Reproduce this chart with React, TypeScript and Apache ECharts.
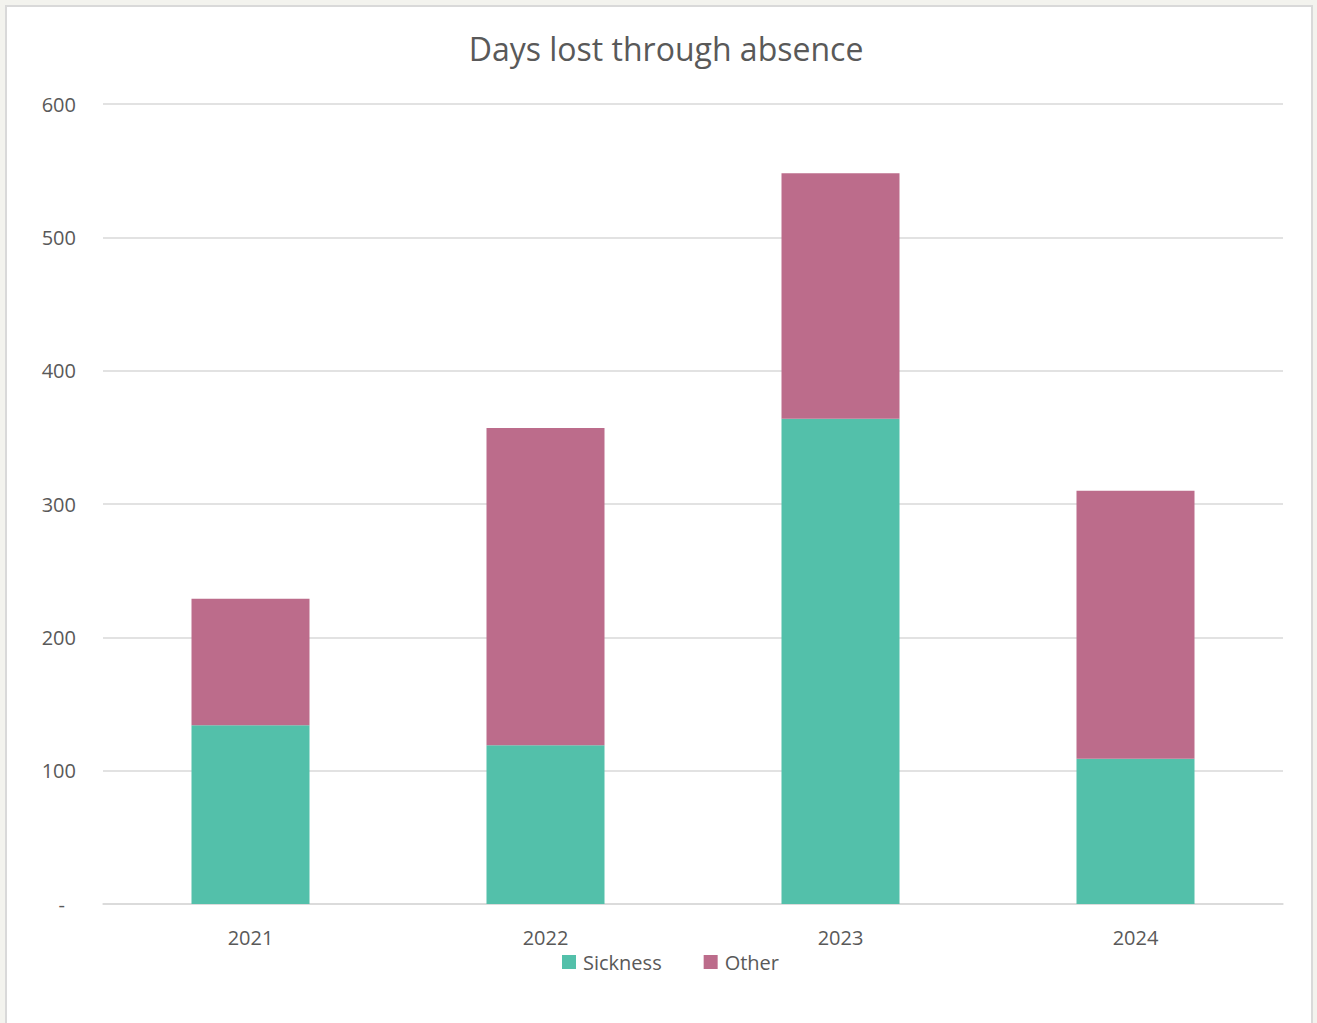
import React, { useEffect, useRef } from "react";
import * as echarts from "echarts";

const categories = ["2021", "2022", "2023", "2024"];
const sickness = [134, 119, 364, 109];
const other = [95, 238, 184, 201];
const yTicks = [0, 100, 200, 300, 400, 500, 600];

const FONT = "'Open Sans', 'Noto Sans', sans-serif";
const TEXT = "#595959";

export default function App() {
  const ref = useRef<HTMLDivElement>(null);
  useEffect(() => {
    document.body.style.margin = "0";
    const chart = echarts.init(ref.current!, null, { renderer: "svg" });
    chart.setOption({
      animation: false,
      backgroundColor: "#f3f3ee",
      textStyle: { fontFamily: FONT },
      graphic: [
        {
          type: "rect",
          shape: { x: 6, y: 6, width: 1306, height: 1030 },
          style: { fill: "#ffffff", stroke: "#d9d9d9", lineWidth: 2 },
          z: -10,
        },
      ],
      title: {
        text: "Days lost through absence",
        left: 661,
        top: 27,
        textAlign: "center",
        textStyle: { color: TEXT, fontSize: 32, fontWeight: "normal", fontFamily: FONT },
      },
      legend: {
        data: ["Sickness", "Other"],
        left: 557,
        top: 947,
        itemWidth: 14,
        itemHeight: 14,
        itemGap: 42,
        icon: "rect",
        textStyle: { color: TEXT, fontSize: 20, fontFamily: FONT, padding: [0, 0, 0, 2] },
      },
      grid: { left: 103, right: 34, top: 104, bottom: 119, containLabel: false },
      xAxis: {
        type: "category",
        data: categories,
        axisLine: { lineStyle: { color: "#d9d9d9", width: 1.5 } },
        axisTick: { show: false },
        axisLabel: { color: TEXT, fontSize: 20, margin: 23, fontFamily: FONT },
      },
      yAxis: {
        type: "value",
        min: yTicks[0],
        max: yTicks[yTicks.length - 1],
        interval: 100,
        axisLine: { show: false },
        axisTick: { show: false },
        splitLine: { lineStyle: { color: "#d9d9d9", width: 1.5 } },
        axisLabel: {
          color: TEXT,
          fontSize: 20,
          margin: 27,
          fontFamily: FONT,
          formatter: (v: number) => (v === 0 ? "{d|-}" : String(v)),
          rich: { d: { color: TEXT, fontSize: 20, fontFamily: FONT, padding: [0, 11, 0, 0] } },
        },
      },
      series: [
        {
          name: "Sickness",
          type: "bar",
          stack: "total",
          data: sickness,
          barWidth: "40%",
          itemStyle: { color: "#53c0aa" },
        },
        {
          name: "Other",
          type: "bar",
          stack: "total",
          data: other,
          barWidth: "40%",
          itemStyle: { color: "#bc6c8b" },
        },
      ],
    });
    return () => chart.dispose();
  }, []);
  return <div ref={ref} style={{ width: 1317, height: 1023 }} />;
}
